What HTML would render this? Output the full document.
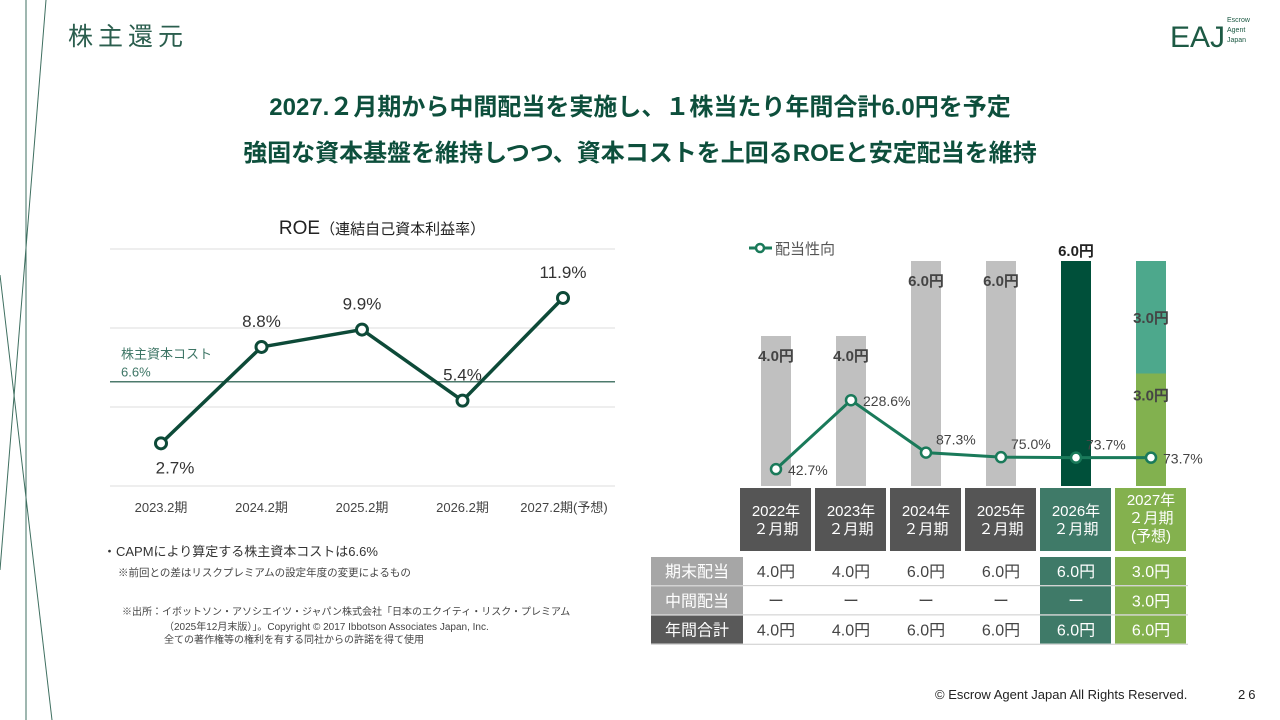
<!DOCTYPE html>
<html><head><meta charset="utf-8">
<style>
body{margin:0;width:1280px;height:720px;overflow:hidden;background:#fff;font-family:"Liberation Sans","Noto Sans CJK JP",sans-serif;position:relative}
.abs{position:absolute}
svg text{font-family:"Liberation Sans","Noto Sans CJK JP",sans-serif}
</style></head>
<body>
<svg class="abs" style="left:0;top:0" width="1280" height="720">
  <g stroke="#3f6f60" stroke-width="1">
    <line x1="26" y1="0" x2="26" y2="720"/>
    <line x1="46" y1="0" x2="0" y2="570"/>
    <line x1="0" y1="275" x2="52" y2="720"/>
  </g>
  <text x="68" y="45" font-size="25" fill="#2b5e4e" letter-spacing="5">株主還元</text>
  <g>
    <text x="1170" y="47" font-size="30" fill="#1d5a44" font-family="Liberation Serif,serif">EAJ</text>
    <text x="1227" y="22" font-size="7" fill="#1d5a44">Escrow</text>
    <text x="1227" y="32" font-size="7" fill="#1d5a44">Agent</text>
    <text x="1227" y="42" font-size="7" fill="#1d5a44">Japan</text>
  </g>
  <text x="640" y="115" text-anchor="middle" font-size="24" font-weight="bold" fill="#0d4f3c">2027.２月期から中間配当を実施し、１株当たり年間合計6.0円を予定</text>
  <text x="640" y="161" text-anchor="middle" font-size="24" font-weight="bold" fill="#0d4f3c">強固な資本基盤を維持しつつ、資本コストを上回るROEと安定配当を維持</text>

  <text x="382" y="234" text-anchor="middle" font-size="19" fill="#222">ROE<tspan font-size="15">（連結自己資本利益率）</tspan></text>
  <g id="roe"></g>
  <g id="div"></g>

  <text x="103" y="556" font-size="13" fill="#333">・CAPMにより算定する株主資本コストは6.6%</text>
  <text x="118" y="576" font-size="10.5" fill="#444">※前回との差はリスクプレミアムの設定年度の変更によるもの</text>
  <text x="122" y="615" font-size="10" fill="#444">※出所：イボットソン・アソシエイツ・ジャパン株式会社「日本のエクイティ・リスク・プレミアム</text>
  <text x="164" y="630" font-size="10" fill="#444">（2025年12月末版）」。Copyright © 2017 Ibbotson Associates Japan, Inc.</text>
  <text x="164" y="643" font-size="10" fill="#444">全ての著作権等の権利を有する同社からの許諾を得て使用</text>

  <text x="935" y="699" font-size="13" fill="#222">© Escrow Agent Japan All Rights Reserved.</text>
  <text x="1238" y="699" font-size="13" fill="#222" letter-spacing="3">26</text>
</svg>
<script>
const NS="http://www.w3.org/2000/svg";
function mk(p,t,a,txt){const e=document.createElementNS(NS,t);for(const k in a)e.setAttribute(k,a[k]);if(txt!==undefined)e.textContent=txt;p.appendChild(e);return e;}

// ROE chart data
const roeCats=["2023.2期","2024.2期","2025.2期","2026.2期","2027.2期(予想)"];
const roeVals=[2.7,8.8,9.9,5.4,11.9];
const roeLabels=["2.7%","8.8%","9.9%","5.4%","11.9%"];
const roeGrid=[0,5,10,15];
const costOfEquity=6.6;

// Dividend chart data
const divYears=["2022年","2023年","2024年","2025年","2026年","2027年"];
const divInterim=[0,0,0,0,0,3.0];
const divFinal=[4.0,4.0,6.0,6.0,6.0,3.0];
const divLabels=["4.0円","4.0円","6.0円","6.0円","6.0円","6.0円"];
const payout=[42.7,228.6,87.3,75.0,73.7,73.7];
const payoutLabels=["42.7%","228.6%","87.3%","75.0%","73.7%","73.7%"];
const rowFinal=["4.0円","4.0円","6.0円","6.0円","6.0円","3.0円"];
const rowInterim=["ー","ー","ー","ー","ー","3.0円"];
const rowTotal=["4.0円","4.0円","6.0円","6.0円","6.0円","6.0円"];

(function(){
  const g=document.getElementById('roe');
  const y=v=>486-v*15.8, x=i=>161+i*100.5;
  roeGrid.forEach(v=>{const l=mk(g,'line',{x1:110,x2:615,y1:y(v),y2:y(v),stroke:'#ddd','stroke-width':1});
    
    });
  const c=mk(g,'line',{x1:110,x2:615,y1:y(costOfEquity),y2:y(costOfEquity),stroke:'#4d7a6c','stroke-width':1.5});
  
  
  const t1=mk(g,'text',{x:121,y:y(costOfEquity)-23,'font-size':13,fill:'#3d7565'},'株主資本コスト');
  
  
  const t2=mk(g,'text',{x:121,y:y(costOfEquity)-5,'font-size':13,fill:'#3d7565'},costOfEquity.toFixed(1)+'%');
  
  
  const pl=mk(g,'polyline',{points:roeVals.map((v,i)=>x(i)+','+y(v)).join(' '),fill:'none',stroke:'#0d4a38','stroke-width':3.5});
  
  
  roeVals.forEach((v,i)=>{
    const p=mk(g,'circle',{cx:x(i),cy:y(v),r:5.5,fill:'#fff',stroke:'#0d4a38','stroke-width':3});
    
    
    const below=i===0;
    const lt=mk(g,'text',{x:x(i)+(i===0?14:0),y:below?y(v)+30:y(v)-20,'text-anchor':'middle','font-size':17,fill:'#333'},roeLabels[i]);
    
    
    const ct=mk(g,'text',{x:x(i)+(i===4?1:0),y:512,'text-anchor':'middle','font-size':13,fill:'#444'},roeCats[i]);
    
    
  });
})();

(function(){
  const g=document.getElementById('div');
  const x=i=>776+i*75, y=v=>486-v*37.5, py=p=>485-p*0.371;
  const ll=mk(g,'line',{x1:749,x2:772,y1:248,y2:248,stroke:'#1a7a5a','stroke-width':3});
  
  
  mk(g,'circle',{cx:760,cy:248,r:4,fill:'#fff',stroke:'#1a7a5a','stroke-width':2.5});
  const lt=mk(g,'text',{x:775,y:254,'font-size':15,fill:'#555'},'配当性向');
  
  
  divYears.forEach((yr,i)=>{
    const fin=divFinal[i], intr=divInterim[i];
    let col='#c0c0c0';
    if(i===4)col='#00503a';
    if(i===5)col='#82b14f';
    const b=mk(g,'rect',{x:x(i)-15,y:y(fin),width:30,height:486-y(fin),fill:col});
    
    
    if(intr>0){
      const b2=mk(g,'rect',{x:x(i)-15,y:y(fin+intr),width:30,height:y(fin)-y(fin+intr),fill:'#4da88c'});
      
      
      const a=mk(g,'text',{x:x(i),y:y(fin)+27,'text-anchor':'middle','font-size':15,'font-weight':'bold',fill:'#444'},fin.toFixed(1)+'円');
      
      
      const c=mk(g,'text',{x:x(i),y:y(fin+intr)+62,'text-anchor':'middle','font-size':15,'font-weight':'bold',fill:'#444'},intr.toFixed(1)+'円');
      
      
    } else {
      const ly=i===4?y(fin)-5:y(fin)+25;
      const a=mk(g,'text',{x:x(i),y:ly,'text-anchor':'middle','font-size':15,'font-weight':'bold',fill:i===4?'#222':'#444'},divLabels[i]);
      
      
    }
  });
  const pl=mk(g,'polyline',{points:payout.map((p,i)=>x(i)+','+py(p)).join(' '),fill:'none',stroke:'#1a7a5a','stroke-width':3});
  
  
  payout.forEach((p,i)=>{
    const c=mk(g,'circle',{cx:x(i),cy:py(p),r:5,fill:'#fff',stroke:'#1a7a5a','stroke-width':2.5});
    
    
    const dx=i===2||i===3||i===4?10:12, dy=i>=2&&i<=4?-8:6;
    const t=mk(g,'text',{x:x(i)+dx,y:py(p)+dy,'font-size':14,fill:'#444'},payoutLabels[i]);
    
    
  });
  const hdrCol=['#555555','#555555','#555555','#555555','#3f7a68','#84b14e'];
  divYears.forEach((yr,i)=>{
    const cx=x(i);
    const r=mk(g,'rect',{x:cx-36,y:488,width:71,height:63,fill:hdrCol[i]});
    
    
    const lines=i===5?[yr,'２月期','(予想)']:[yr,'２月期'];
    const y0=i===5?505:516;
    lines.forEach((s,k)=>{const t=mk(g,'text',{x:cx,y:y0+k*18,'text-anchor':'middle','font-size':15,fill:'#fff'},s);
      
      });
  });
  const rows=[['期末配当',rowFinal,'#a6a6a6'],['中間配当',rowInterim,'#a6a6a6'],['年間合計',rowTotal,'#595959']];
  rows.forEach((row,r)=>{
    const ry=557+r*29.3;
    const h=mk(g,'rect',{x:651,y:ry,width:92,height:28,fill:row[2]});
    
    
    const ht=mk(g,'text',{x:697,y:ry+20,'text-anchor':'middle','font-size':16,fill:'#fff'},row[0]);
    
    
    row[1].forEach((v,i)=>{
      const cx=x(i);
      if(i>=4){const c=mk(g,'rect',{x:cx-36,y:ry,width:71,height:28,fill:i===4?'#3f7a68':'#84b14e'});
        
        }
      const t=mk(g,'text',{x:cx,y:ry+20,'text-anchor':'middle','font-size':16,fill:i>=4?'#fff':'#444'},v);
      
      
    });
    const sl=mk(g,'line',{x1:651,x2:1188,y1:ry+28.6,y2:ry+28.6,stroke:'#ccc','stroke-width':1});
    
    
  });
})();
</script>
</body></html>
